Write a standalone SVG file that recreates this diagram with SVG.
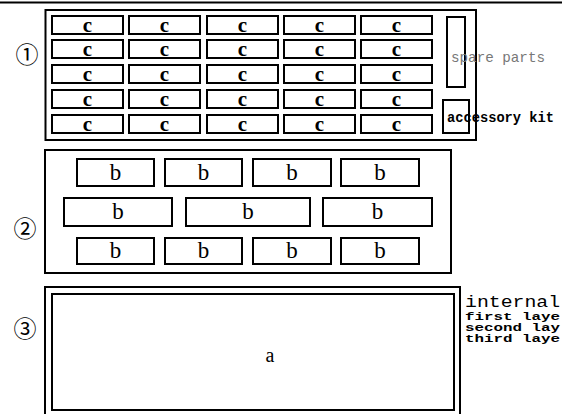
<svg xmlns="http://www.w3.org/2000/svg" width="562" height="414" viewBox="0 0 562 414">
<style>
.box{fill:#fff;stroke:#000;stroke-width:2}
.cell{fill:#fff;stroke:#000;stroke-width:2}
.ct{font-family:"Liberation Serif",serif;font-weight:bold;font-size:21px;text-anchor:middle}
.bt{font-family:"Liberation Serif",serif;font-size:23px;text-anchor:middle}
.num{font-family:"DejaVu Serif","Noto Sans CJK SC",serif;font-size:23px;text-anchor:middle}
.mono{font-family:"Liberation Mono",monospace}
</style>
<rect width="562" height="414" fill="#fff"/>
<line x1="0" y1="2.5" x2="562" y2="2.5" stroke="#000" stroke-width="2"/>
<g id="label1"><text class="num" x="27" y="63">①</text></g>
<g id="label2"><text class="num" x="25" y="237">②</text></g>
<g id="label3"><text class="num" x="25" y="337">③</text></g>
<g id="box1">
<rect class="box" x="45.5" y="10" width="430.5" height="130"/>
<g id="cells-c">
<rect class="cell" x="52" y="16" width="71" height="18"/><rect class="cell" x="129" y="16" width="71" height="18"/><rect class="cell" x="207" y="16" width="71" height="18"/><rect class="cell" x="284" y="16" width="71" height="18"/><rect class="cell" x="361" y="16" width="71" height="18"/>
<rect class="cell" x="52" y="40" width="71" height="18"/><rect class="cell" x="129" y="40" width="71" height="18"/><rect class="cell" x="207" y="40" width="71" height="18"/><rect class="cell" x="284" y="40" width="71" height="18"/><rect class="cell" x="361" y="40" width="71" height="18"/>
<rect class="cell" x="52" y="65" width="71" height="18"/><rect class="cell" x="129" y="65" width="71" height="18"/><rect class="cell" x="207" y="65" width="71" height="18"/><rect class="cell" x="284" y="65" width="71" height="18"/><rect class="cell" x="361" y="65" width="71" height="18"/>
<rect class="cell" x="52" y="90" width="71" height="18"/><rect class="cell" x="129" y="90" width="71" height="18"/><rect class="cell" x="207" y="90" width="71" height="18"/><rect class="cell" x="284" y="90" width="71" height="18"/><rect class="cell" x="361" y="90" width="71" height="18"/>
<rect class="cell" x="52" y="115" width="71" height="18"/><rect class="cell" x="129" y="115" width="71" height="18"/><rect class="cell" x="207" y="115" width="71" height="18"/><rect class="cell" x="284" y="115" width="71" height="18"/><rect class="cell" x="361" y="115" width="71" height="18"/>
<text class="ct" x="87.5" y="32">c</text><text class="ct" x="164.5" y="32">c</text><text class="ct" x="242.5" y="32">c</text><text class="ct" x="319.5" y="32">c</text><text class="ct" x="396.5" y="32">c</text>
<text class="ct" x="87.5" y="56">c</text><text class="ct" x="164.5" y="56">c</text><text class="ct" x="242.5" y="56">c</text><text class="ct" x="319.5" y="56">c</text><text class="ct" x="396.5" y="56">c</text>
<text class="ct" x="87.5" y="81">c</text><text class="ct" x="164.5" y="81">c</text><text class="ct" x="242.5" y="81">c</text><text class="ct" x="319.5" y="81">c</text><text class="ct" x="396.5" y="81">c</text>
<text class="ct" x="87.5" y="106">c</text><text class="ct" x="164.5" y="106">c</text><text class="ct" x="242.5" y="106">c</text><text class="ct" x="319.5" y="106">c</text><text class="ct" x="396.5" y="106">c</text>
<text class="ct" x="87.5" y="131">c</text><text class="ct" x="164.5" y="131">c</text><text class="ct" x="242.5" y="131">c</text><text class="ct" x="319.5" y="131">c</text><text class="ct" x="396.5" y="131">c</text>
</g>
<g id="spare-parts">
<rect class="cell" x="447" y="17" width="18" height="70"/>
<text class="mono" x="451" y="62" font-size="15" fill="#777" textLength="94" lengthAdjust="spacingAndGlyphs">spare parts</text>
</g>
<g id="accessory-kit">
<rect class="cell" x="443" y="100" width="26" height="33"/>
<text class="mono" x="447" y="122" font-size="14" font-weight="bold" textLength="107" lengthAdjust="spacingAndGlyphs">accessory kit</text>
</g>
</g>
<g id="box2">
<rect class="box" x="45" y="150" width="406" height="123"/>
<g id="cells-b">
<rect class="cell" x="77" y="159" width="77" height="27"/><rect class="cell" x="165" y="159" width="77" height="27"/><rect class="cell" x="253" y="159" width="78" height="27"/><rect class="cell" x="341" y="159" width="78" height="27"/>
<rect class="cell" x="64" y="198" width="108" height="28"/><rect class="cell" x="186" y="198" width="124" height="28"/><rect class="cell" x="323" y="198" width="109" height="28"/>
<rect class="cell" x="77" y="238" width="77" height="26"/><rect class="cell" x="165" y="238" width="77" height="26"/><rect class="cell" x="253" y="238" width="78" height="26"/><rect class="cell" x="341" y="238" width="78" height="26"/>
<text class="bt" x="115.5" y="180">b</text><text class="bt" x="203.5" y="180">b</text><text class="bt" x="292" y="180">b</text><text class="bt" x="380" y="180">b</text>
<text class="bt" x="118" y="219">b</text><text class="bt" x="248" y="219">b</text><text class="bt" x="377.5" y="219">b</text>
<text class="bt" x="115.5" y="258">b</text><text class="bt" x="203.5" y="258">b</text><text class="bt" x="292" y="258">b</text><text class="bt" x="380" y="258">b</text>
</g>
</g>
<g id="box3">
<rect class="box" x="45" y="287" width="415" height="140"/>
<rect class="cell" x="52" y="294" width="402" height="116"/>
<text x="270" y="362" font-family="Liberation Serif,serif" font-size="20" text-anchor="middle">a</text>
</g>
<g id="legend" class="mono">
<text x="465" y="307" font-size="16" textLength="95" lengthAdjust="spacingAndGlyphs">internal</text>
<text x="465" y="320" font-size="11" font-weight="bold" textLength="95" lengthAdjust="spacingAndGlyphs">first laye</text>
<text x="465" y="331" font-size="11" font-weight="bold" textLength="95" lengthAdjust="spacingAndGlyphs">second lay</text>
<text x="465" y="342" font-size="11" font-weight="bold" textLength="95" lengthAdjust="spacingAndGlyphs">third laye</text>
</g>
</svg>
